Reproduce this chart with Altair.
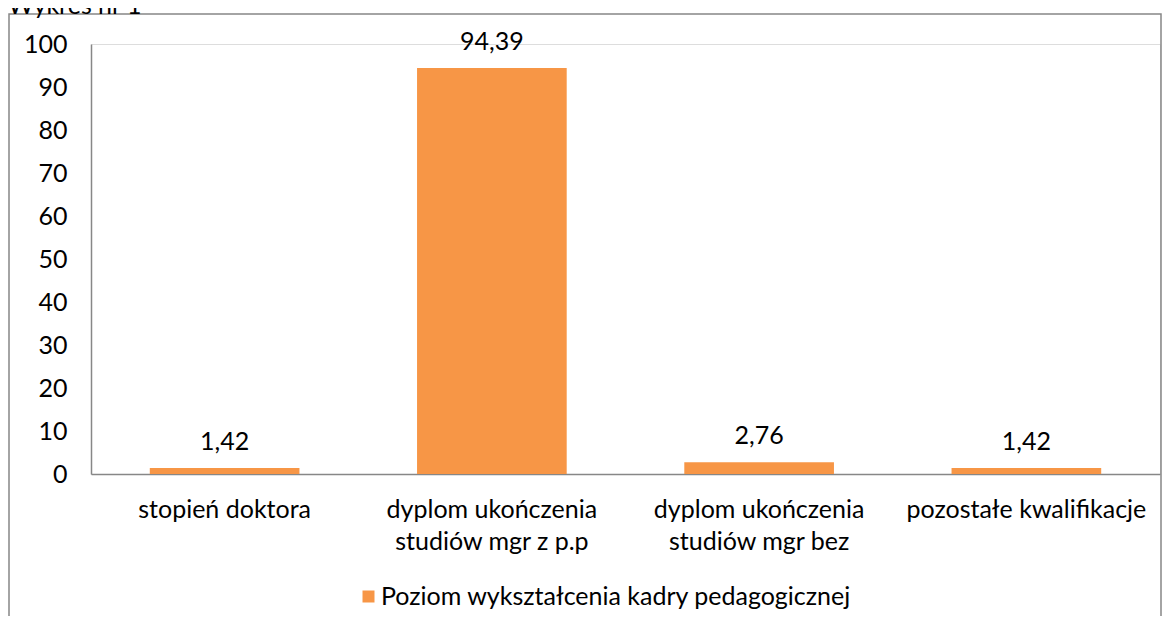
import altair as alt
import pandas as pd

categories = [
    "stopień doktora",
    "dyplom ukończenia studiów mgr z p.p",
    "dyplom ukończenia studiów mgr bez",
    "pozostałe kwalifikacje",
]
values = [1.42, 94.39, 2.76, 1.42]
series_name = "Poziom wykształcenia kadry pedagogicznej"
y_ticks = [0, 10, 20, 30, 40, 50, 60, 70, 80, 90, 100]
chart_title = "Wykres nr 1"

FONT = "Lato"
ORANGE = "#F79646"
GRAY = "#878787"

df = pd.DataFrame({
    "kategoria": categories,
    "wartosc": values,
    "etykieta": [f"{v:.2f}".replace(".", ",") for v in values],
    "seria": [series_name] * len(values),
})

W, H = 1069, 430

x_enc = alt.X(
    "kategoria:N",
    sort=categories,
    scale=alt.Scale(paddingInner=0.44, paddingOuter=0.22),
    axis=alt.Axis(
        title=None, labelAngle=0, ticks=False, domainColor=GRAY, domainWidth=1.5,
        labelFont=FONT, labelFontSize=25, labelColor="#000000", labelPadding=23,
        labelLineHeight=32, labelLimit=0,
        labelExpr="indexof(datum.label, 'dyplom ukończenia ') == 0 ? ['dyplom ukończenia', substring(datum.label, 18)] : datum.label",
    ),
)
y_enc = alt.Y(
    "wartosc:Q",
    scale=alt.Scale(domain=[0, 100], nice=False),
    axis=alt.Axis(
        title=None, values=y_ticks, grid=False, ticks=False, domainColor=GRAY,
        domainWidth=1.5, labelFont=FONT, labelFontSize=25, labelColor="#000000",
        labelPadding=24,
    ),
)

bars = alt.Chart(df).mark_bar(color=ORANGE).encode(
    x=x_enc,
    y=y_enc,
    color=alt.Color(
        "seria:N",
        scale=alt.Scale(range=[ORANGE]),
        legend=alt.Legend(
            title=None, orient="none", legendX=265, legendY=540,
            symbolType="square", symbolSize=144, symbolStrokeWidth=0,
            labelFont=FONT, labelFontSize=25, labelColor="#000000",
            labelOffset=0, padding=0, labelLimit=0,
        ),
    ),
)

labels = alt.Chart(df).mark_text(
    font=FONT, fontSize=25, color="#000000", baseline="alphabetic", dy=-18
).encode(
    x=alt.X("kategoria:N", sort=categories),
    y="wartosc:Q",
    text="etykieta:N",
)

frame_df = pd.DataFrame({"f": [0]})
frame = alt.Chart(frame_df).mark_rect(
    fillOpacity=0, stroke=GRAY, strokeWidth=1.5
).encode(
    x=alt.value(-82), x2=alt.value(1070), y=alt.value(-30), y2=alt.value(800)
)

title_df = pd.DataFrame({"t": [chart_title]})
title = alt.Chart(title_df).mark_text(
    font=FONT, fontSize=25, color="#000000", align="left", baseline="alphabetic"
).encode(
    x=alt.value(-83), y=alt.value(-30), text="t:N"
)

chart = alt.layer(frame, bars, labels, title).properties(
    width=W, height=H,
    autosize=alt.AutoSizeParams(type="none"),
    padding={"left": 83, "top": 36, "right": 3, "bottom": 142},
).configure_view(stroke=None).configure(background="#ffffff")

chart.save("out.html", embed_options={"renderer": "svg", "actions": False})
